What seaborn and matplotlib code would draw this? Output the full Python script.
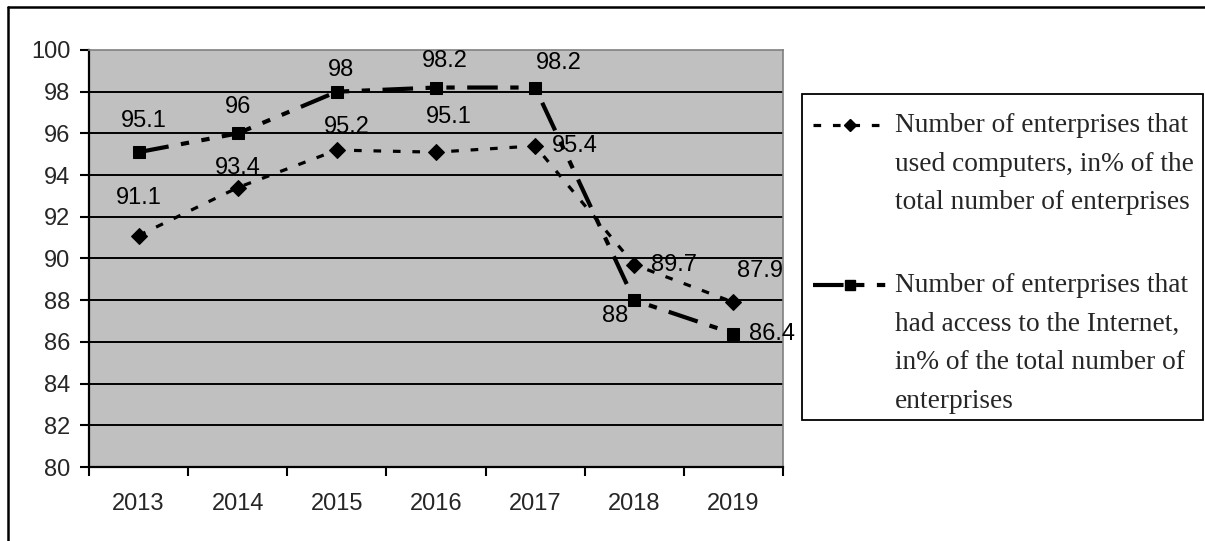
import pandas as pd
import seaborn as sns
import matplotlib.pyplot as plt
from matplotlib.lines import Line2D
from matplotlib.patches import Rectangle

years = ["2013", "2014", "2015", "2016", "2017", "2018", "2019"]
computers = [91.1, 93.4, 95.2, 95.1, 95.4, 89.7, 87.9]
internet = [95.1, 96.0, 98.0, 98.2, 98.2, 88.0, 86.4]
computers_text = ["91.1", "93.4", "95.2", "95.1", "95.4", "89.7", "87.9"]
internet_text = ["95.1", "96", "98", "98.2", "98.2", "88", "86.4"]
label_computers = "Number of enterprises that\nused computers, in% of the\ntotal number of enterprises"
label_internet = "Number of enterprises that\nhad access to the Internet,\nin% of the total number of\nenterprises"

# label offsets in pixels (dx, dy) from each marker
off_computers = [(0, 38), (0, 20), (10, 23), (13, 35), (40, 0), (40, 0), (27, 31)]
off_internet = [(5, 31), (0, 26), (4, 22), (9, 27), (24, 25), (-19, -16), (39, 0)]

sns.set_theme(style="white")
plt.rcParams["font.family"] = ["Liberation Sans", "DejaVu Sans"]
plt.rcParams["lines.scale_dashes"] = False

df = pd.DataFrame({
    "pos": list(range(len(years))) * 2,
    "value": computers + internet,
    "series": ["computers"] * len(years) + ["internet"] * len(years),
})

dash_comp = (5.5, 8.5)
dash_int = (22, 9, 6, 9, 6, 9)

fig = plt.figure(figsize=(12.05, 5.41), dpi=100)
ax = fig.add_axes([89 / 1205, 1 - 467 / 541, 694 / 1205, 417 / 541])
ax.set_facecolor("#c0c0c0")

sns.lineplot(data=df, x="pos", y="value", style="series", ax=ax, color="black",
             markers={"computers": "D", "internet": "s"},
             dashes={"computers": dash_comp, "internet": dash_int},
             markersize=8.5, markeredgecolor="black", legend=False)
for ln in ax.get_lines():
    ln.set_linewidth(2.3)
ax.get_lines()[1].set_linewidth(3.0)

for vals, txts, offs in [(computers, computers_text, off_computers),
                         (internet, internet_text, off_internet)]:
    for i, (v, t, o) in enumerate(zip(vals, txts, offs)):
        ax.annotate(t, (i, v), xytext=o, textcoords="offset pixels",
                    ha="center", va="center", fontsize=17, color="black")

ax.set_xlim(-0.5, len(years) - 0.5)
ax.set_ylim(80, 100)
ax.set_yticks(range(80, 101, 2))
ax.set_xticks([i - 0.5 for i in range(len(years) + 1)])
ax.set_xticklabels([])
ax.set_xticks(range(len(years)), minor=True)
ax.set_xticklabels(years, minor=True)
ax.tick_params(axis="x", which="major", direction="out", length=6.5, width=1.5,
               color="black", bottom=True)
ax.tick_params(axis="x", which="minor", length=0, pad=19, labelsize=17)
ax.tick_params(axis="y", direction="out", length=6.5, width=1.5, color="black",
               left=True, pad=7, labelsize=17)
ax.set_xlabel("")
ax.set_ylabel("")

ax.yaxis.grid(True, color="black", linewidth=1.4)
ax.yaxis.get_gridlines()[-1].set_visible(False)
ax.set_axisbelow(True)

for side in ["left", "bottom"]:
    ax.spines[side].set_color("black")
    ax.spines[side].set_linewidth(1.6)
for side in ["top", "right"]:
    ax.spines[side].set_color("#808080")
    ax.spines[side].set_linewidth(1.2)

# outer frame (top and left visible)
fig.add_artist(Line2D([8 / 1205, 1], [1 - 7 / 541, 1 - 7 / 541], color="black", lw=1.8))
fig.add_artist(Line2D([8 / 1205, 8 / 1205], [0, 1 - 7 / 541], color="black", lw=1.8))

# legend box
W, H = 1205, 541
fig.add_artist(Rectangle((802 / W, 1 - 420 / H), 401 / W, 326 / H, transform=fig.transFigure,
                         facecolor="white", edgecolor="black", lw=1.3))
for y, dash, mk, ms, lw, txt_y, txt in [
        (125, dash_comp, "D", 6, 2.3, 113, label_computers),
        (285, dash_int, "s", 7, 3.0, 273, label_internet)]:
    fy = 1 - y / H
    fig.add_artist(Line2D([813 / W, 888 / W], [fy, fy], color="black", lw=lw,
                          dashes=dash, marker=None))
    fig.add_artist(Line2D([850 / W], [fy], color="black", marker=mk, markersize=ms,
                          linestyle="none"))
    fig.text(895 / W, 1 - txt_y / H, txt, ha="left", va="top", fontsize=19.7,
             family=["Liberation Serif", "DejaVu Serif"], linespacing=1.72)

fig.savefig("out.png", dpi=100)
